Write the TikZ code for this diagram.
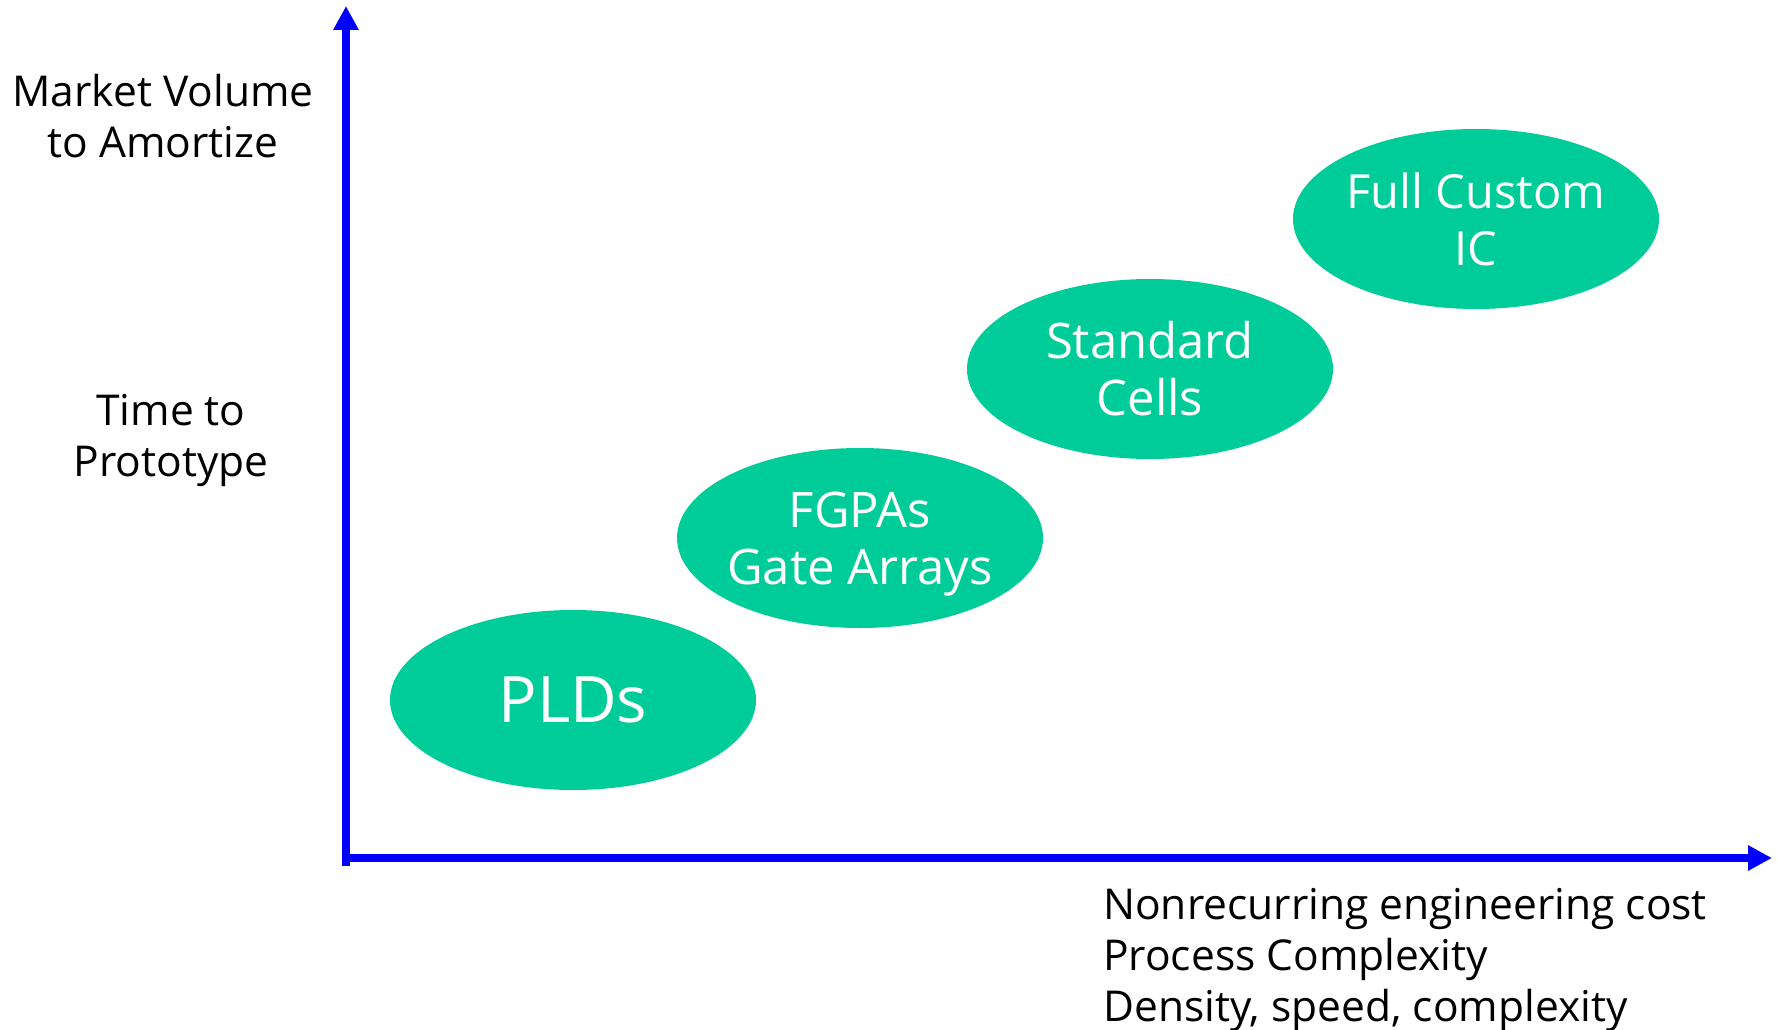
\documentclass[tikz,border=0pt]{standalone}
\usepackage{fontspec}
\setmainfont{Open Sans}
\usetikzlibrary{shapes.geometric,arrows.meta}
\definecolor{blobgreen}{RGB}{0,204,153}
\definecolor{axisblue}{RGB}{0,0,255}
\tikzset{
  blob/.style={ellipse, fill=blobgreen, draw=none, minimum width=366pt, minimum height=180pt, inner sep=-40pt,
    text=white, align=center, font=\fontsize{49}{57}\selectfont},
  axislabel/.style={text=black, inner sep=0pt, font=\fontsize{42.5}{51}\selectfont},
  axisline/.style={draw=axisblue, line width=8pt, -{Triangle[length=24pt,width=24pt]}}
}
\begin{document}
\begin{tikzpicture}[x=1pt,y=-1pt]
\useasboundingbox (0,0) rectangle (1777,1030);
\coordinate (yfoot) at (346,866);
\coordinate (ytip) at (346,6);
\coordinate (xfoot) at (342,858);
\coordinate (xtip) at (1772,858);
\draw[axisline] (yfoot) -- (ytip);
\draw[axisline] (xfoot) -- (xtip);
\node[blob, font=\fontsize{64}{70}\selectfont] (plds) at (573,700) {PLDs};
\node[blob, text depth=0pt] (fpga) at (860,538) {FGPAs\\Gate Arrays};
\node[blob] (std) at (1150,369) {Standard\\Cells};
\node[blob, font=\fontsize{47}{57}\selectfont] (full) at (1476,219) {Full Custom\\IC};
\node[axislabel, align=center] (mv) at (163,116) {Market Volume\\to Amortize};
\node[axislabel, align=center] (ttp) at (171,441) {Time to\\Prototype};
\node[axislabel, align=left, anchor=north west] (nre) at (1103,888) {Nonrecurring engineering cost\\Process Complexity\\Density, speed, complexity};
\end{tikzpicture}
\end{document}
